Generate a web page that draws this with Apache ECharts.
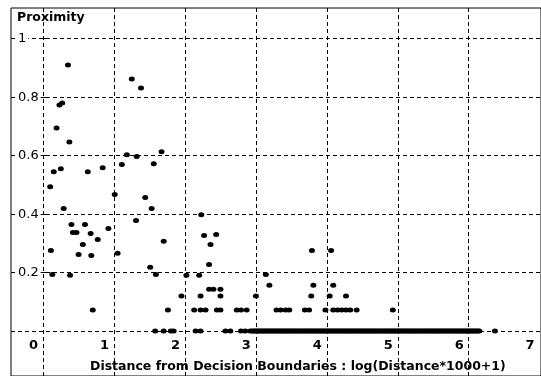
<!DOCTYPE html>
<html><head><meta charset="utf-8">
<script src="https://cdn.jsdelivr.net/npm/echarts@6/dist/echarts.min.js"></script>
<style>html,body{margin:0;padding:0;background:#fff}#c{width:541px;height:376px}</style>
</head><body><div id="c"></div>
<script>
const xTicks = [0, 1, 2, 3, 4, 5, 6, 7];
const xGridValues = [0, 1, 2, 3, 4, 5, 6];
const yTicks = [0.2, 0.4, 0.6, 0.8, 1];
const yGridValues = [0, 0.2, 0.4, 0.6, 0.8, 1];
const yTitle = 'Proximity';
const xTitle = 'Distance from Decision Boundaries : log(Distance*1000+1)';

// scattered points [x, proximity]
const scatterPoints = [
  [0.35,0.91],[1.25,0.862],[1.38,0.831],[0.23,0.773],[0.27,0.78],[0.19,0.695],[0.37,0.647],
  [1.18,0.603],[1.32,0.597],[1.67,0.613],[1.56,0.572],[1.11,0.57],[0.15,0.545],[0.25,0.555],
  [0.63,0.545],[0.84,0.559],[0.10,0.494],[1.01,0.467],[1.44,0.457],[1.53,0.419],[0.29,0.419],
  [1.31,0.378],[0.40,0.365],[0.59,0.365],[0.42,0.337],[0.47,0.337],[0.67,0.334],[0.92,0.351],
  [0.77,0.313],[0.56,0.296],[1.70,0.307],[0.11,0.276],[0.50,0.262],[0.68,0.259],[1.05,0.266],
  [0.13,0.194],[0.38,0.191],[2.23,0.398],[2.27,0.327],[2.44,0.33],[2.36,0.296],[2.34,0.228],
  [1.51,0.218],[1.59,0.194],[2.02,0.191],[2.20,0.191],[3.14,0.194],[3.19,0.157],[3.81,0.157],
  [4.09,0.157],[3.79,0.276],[4.06,0.276],[2.34,0.143],[2.40,0.143],[2.50,0.143]
];
// rows of points sharing the same proximity
const row012Value = 0.12;
const row012X = [1.95, 2.22, 2.50, 3.00, 3.78, 4.04, 4.27];
const row007Value = 0.072;
const row007X = [0.70, 1.76, 2.13, 2.22, 2.29, 2.45, 2.50, 2.73, 2.79, 2.87, 3.29, 3.35, 3.42, 3.47,
  3.69, 3.75, 3.98, 4.09, 4.15, 4.21, 4.27, 4.33, 4.42, 4.93];
const row0Value = 0;
const row0X = [1.58,1.70,1.80,1.84,2.15,2.22,2.57,2.64,2.79,2.85,2.92,
  2.95,2.97,2.99,3.01,3.03,3.05,3.07,3.09,3.11,3.13,3.15,3.17,3.19,3.21,3.23,3.25,3.27,3.29,3.31,3.33,
  3.35,3.37,3.39,3.41,3.43,3.45,3.47,3.49,3.51,3.53,3.55,3.57,3.59,3.61,3.63,3.65,3.67,3.69,3.71,3.73,
  3.75,3.77,3.79,3.81,3.83,3.85,3.87,3.89,3.91,3.93,3.95,3.97,3.99,4.01,4.03,4.05,4.07,4.09,4.11,4.13,
  4.15,4.17,4.19,4.21,4.23,4.25,4.27,4.29,4.31,4.33,4.35,4.37,4.39,4.41,4.43,4.45,4.47,4.49,4.51,4.53,
  4.55,4.57,4.59,4.61,4.63,4.65,4.67,4.69,4.71,4.73,4.75,4.77,4.79,4.81,4.83,4.85,4.87,4.89,4.91,4.93,
  4.95,4.97,4.99,5.01,5.03,5.05,5.07,5.09,5.11,5.13,5.15,5.17,5.19,5.21,5.23,5.25,5.27,5.29,5.31,5.33,
  5.35,5.37,5.39,5.41,5.43,5.45,5.47,5.49,5.51,5.53,5.55,5.57,5.59,5.61,5.63,5.65,5.67,5.69,5.71,5.73,
  5.75,5.77,5.79,5.81,5.83,5.85,5.87,5.89,5.91,5.93,5.95,5.97,5.99,6.01,6.03,6.05,6.07,6.09,6.11,6.13,
  6.15,6.37];

const allData = scatterPoints
  .concat(row012X.map(x => [x, row012Value]))
  .concat(row007X.map(x => [x, row007Value]))
  .concat(row0X.map(x => [x, row0Value]));

const FONT = 'DejaVu Sans';
const chart = echarts.init(document.getElementById('c'), null, {renderer: 'canvas'});
chart.setOption({
  animation: false,
  backgroundColor: '#fff',
  title: [
    {text: yTitle, left: 17, top: 11, padding: 0,
     textStyle: {fontFamily: FONT, fontSize: 12.5, fontWeight: 'bold', color: '#000'}},
    {text: xTitle, left: 90, top: 360, padding: 0,
     textStyle: {fontFamily: FONT, fontSize: 12.5, fontWeight: 'bold', color: '#000'}}
  ],
  grid: {left: 11, top: 8, right: -5, bottom: -2, show: true, borderColor: '#000', borderWidth: 1,
         backgroundColor: 'transparent'},
  xAxis: {
    type: 'value', min: -0.4525, max: 7.019,
    axisLine: {show: false}, axisTick: {show: false}, splitLine: {show: false},
    axisLabel: {inside: true, margin: 24, customValues: xTicks, align: 'right', padding: [0, 5, 0, 0],
      fontFamily: FONT, fontSize: 13, fontWeight: 'bold', color: '#000'}
  },
  yAxis: {
    type: 'value', min: -0.1535, max: 1.105, z: 10,
    axisLine: {show: false}, splitLine: {show: false},
    axisTick: {show: true, inside: true, length: 3, customValues: yTicks, lineStyle: {color: '#000'}},
    axisLabel: {inside: true, margin: 7, customValues: yTicks, align: 'left',
      fontFamily: FONT, fontSize: 13, color: '#000', backgroundColor: '#fff', padding: [0, 2, 0, 0]}
  },
  series: [{
    type: 'scatter',
    data: allData,
    symbol: 'circle',
    symbolSize: [6, 5],
    itemStyle: {color: '#000', opacity: 1},
    silent: true,
    markLine: {
      silent: true, symbol: ['none', 'none'], label: {show: false},
      lineStyle: {color: '#000', type: [4, 3], width: 1, opacity: 1},
      emphasis: {disabled: true},
      data: xGridValues.map(v => ({xAxis: v})).concat(yGridValues.map(v => ({yAxis: v})))
    }
  }]
});
</script>
</body></html>
